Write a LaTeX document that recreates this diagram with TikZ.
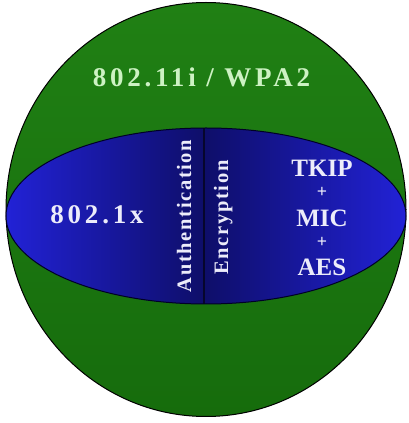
\documentclass[tikz,border=0pt]{standalone}
\usepackage{fontspec}
\setmainfont{Liberation Serif}
\newfontfamily\spacedfont[LetterSpace=14]{Liberation Serif}
\newfontfamily\vertfont[LetterSpace=8]{Liberation Serif}
\definecolor{ballgreenlight}{RGB}{32,128,20}
\definecolor{ballgreendark}{RGB}{22,108,12}
\definecolor{bandblue}{RGB}{34,34,214}
\definecolor{banddark}{RGB}{14,14,105}
\definecolor{divider}{RGB}{6,6,45}
\definecolor{titlegreen}{RGB}{205,242,195}
\definecolor{labelwhite}{RGB}{236,236,250}
\tikzset{
  title/.style={font=\spacedfont\bfseries\fontsize{27}{30}\selectfont, text=titlegreen, inner sep=0pt},
  biglabel/.style={font=\spacedfont\bfseries\fontsize{27}{30}\selectfont, text=labelwhite, inner sep=0pt},
  vlabel/.style={font=\vertfont\bfseries\fontsize{20.5}{24}\selectfont, text=labelwhite, inner sep=0pt, rotate=90},
  stacklabel/.style={font=\bfseries\fontsize{25}{28}\selectfont, text=labelwhite, inner sep=0pt},
  pluslabel/.style={font=\bfseries\fontsize{18}{18}\selectfont, text=labelwhite, inner sep=0pt},
}
\begin{document}
\begin{tikzpicture}[x=1pt,y=1pt]
\useasboundingbox (0,0) rectangle (409,423);
% green ball
\shade[top color=ballgreenlight, bottom color=ballgreendark] (206,213.5) ellipse [x radius=200, y radius=207];
\draw[black, line width=1pt] (206,213.5) ellipse [x radius=200, y radius=207];
% blue band
\begin{scope}
\clip (206,207) ellipse [x radius=200, y radius=88];
\shade[left color=bandblue, right color=banddark] (6,119) rectangle (204,295);
\shade[left color=banddark, right color=bandblue] (204,119) rectangle (406,295);
\end{scope}
\coordinate (divtop) at (204,295);
\coordinate (divbot) at (204,119);
\begin{scope}
\clip (206,207) ellipse [x radius=200, y radius=88];
\draw[divider, line width=1.6pt] (divtop) -- (divbot);
\end{scope}
\draw[black!85!blue, line width=1pt] (206,207) ellipse [x radius=200, y radius=88];
% labels
\node[title, anchor=base] (t) at (201.5,336) {802.11i / WPA2};
\node[biglabel, anchor=base] (x) at (97,199) {802.1x};
\node[vlabel, anchor=base] (auth) at (191,207) {Authentication};
\node[vlabel, anchor=base] (enc) at (228,205.5) {Encryption};
\node[stacklabel, anchor=base] (tkip) at (322,246) {TKIP};
\node[pluslabel] (p1) at (322,231) {+};
\node[stacklabel, anchor=base] (mic) at (322,196) {MIC};
\node[pluslabel] (p2) at (322,181) {+};
\node[stacklabel, anchor=base] (aes) at (322,147) {AES};
\end{tikzpicture}
\end{document}
